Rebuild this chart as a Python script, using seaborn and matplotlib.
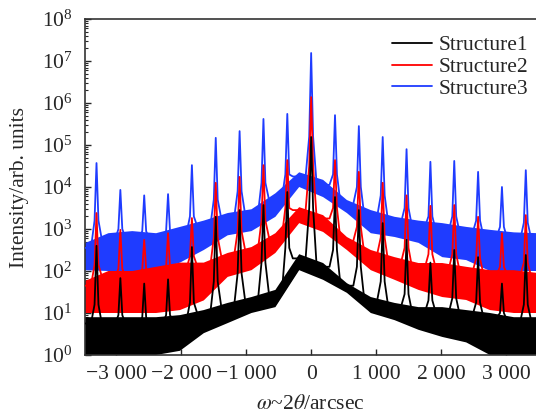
import numpy as np
import matplotlib
matplotlib.use("Agg")
import matplotlib.pyplot as plt
import seaborn as sns

# ---- data (intensities given as log10 values) ----
peak_x = [-3303, -2936, -2569, -2202, -1835, -1468, -1101, -734, -367, 0,
          367, 734, 1101, 1468, 1835, 2202, 2569, 2936, 3303]
mid_x = [-3500, -3120, -2752, -2386, -2018, -1652, -1284, -918, -550, -184,
         184, 550, 918, 1284, 1652, 2018, 2386, 2752, 3120, 3500]

# Structure3 (blue)
s3_peak = [4.57, 3.93, 3.80, 3.83, 4.52, 5.17, 5.33, 5.62, 5.74, 7.19,
           5.71, 5.45, 5.19, 4.90, 4.60, 4.62, 4.36, 4.00, 4.40]
s3_foot = [3.2, 3.0, 2.95, 2.95, 3.3, 3.7, 3.9, 4.1, 4.3, 5.2,
           4.3, 4.0, 3.8, 3.5, 3.3, 3.3, 3.2, 3.05, 3.15]
s3_hi = [2.65, 2.9, 2.95, 2.9, 3.05, 3.2, 3.38, 3.47, 3.85, 4.35,
         4.17, 3.69, 3.45, 3.29, 3.2, 3.14, 3.05, 2.98, 2.92, 2.9]
s3_core_hi = [2.55, 2.72, 2.75, 2.72, 2.88, 3.05, 3.25, 3.35, 3.7, 4.25,
              4.05, 3.6, 3.3, 3.15, 3.05, 2.95, 2.9, 2.8, 2.75, 2.75]
s3_core_lo = [2.3, 2.3, 2.3, 2.3, 2.45, 2.65, 2.95, 3.05, 3.4, 4.05,
              3.85, 3.45, 3.0, 2.9, 2.8, 2.6, 2.5, 2.35, 2.35, 2.35]
s3_lo = [2.02, 2.0, 2.0, 2.0, 2.2, 2.5, 2.85, 2.95, 3.29, 4.0,
         3.76, 3.38, 2.9, 2.81, 2.67, 2.33, 2.26, 2.0, 2.0, 2.0]

# Structure2 (red)
s2_peak = [3.38, 2.98, 2.74, 2.90, 3.26, 4.10, 4.24, 4.52, 4.64, 6.14,
           4.64, 4.36, 4.10, 3.80, 3.55, 3.57, 3.29, 2.90, 3.33]
s2_foot = [2.15, 2.05, 2.05, 2.1, 2.35, 2.8, 2.95, 3.2, 3.5, 4.5,
           3.5, 3.05, 2.8, 2.55, 2.4, 2.4, 2.3, 2.1, 2.2]
s2_hi = [1.75, 2.0, 2.0, 2.1, 2.2, 2.2, 2.43, 2.57, 2.9, 3.52,
         3.33, 2.81, 2.5, 2.33, 2.19, 2.19, 2.1, 2.02, 2.02, 1.95]
s2_core_hi = [1.65, 1.85, 1.85, 1.95, 2.05, 2.1, 2.35, 2.5, 2.8, 3.45,
              3.25, 2.72, 2.4, 2.2, 2.08, 2.05, 1.98, 1.9, 1.9, 1.85]
s2_core_lo = [1.3, 1.3, 1.3, 1.35, 1.45, 1.7, 1.95, 2.1, 2.5, 3.2,
              3.0, 2.55, 2.1, 1.9, 1.7, 1.55, 1.45, 1.35, 1.35, 1.35]
s2_lo = [1.0, 1.0, 1.0, 1.0, 1.07, 1.3, 1.86, 2.02, 2.43, 3.14,
         2.93, 2.5, 2.02, 1.79, 1.55, 1.38, 1.31, 1.07, 1.0, 1.0]

# Structure1 (black)
s1_peak = [2.6, 1.83, 1.7, 1.8, 2.57, 3.29, 3.45, 3.57, 3.88, 5.19,
           3.76, 3.45, 3.14, 2.74, 2.2, 2.5, 2.33, 1.7, 2.38]
s1_foot = [1.2, 0.95, 0.9, 0.95, 1.25, 1.75, 1.95, 2.2, 2.55, 3.5,
           2.5, 2.1, 1.75, 1.45, 1.3, 1.35, 1.25, 1.0, 1.2]
s1_hi = [0.9, 0.9, 0.9, 0.9, 0.95, 1.07, 1.24, 1.38, 1.55, 2.4,
         2.19, 1.71, 1.38, 1.24, 1.14, 1.14, 1.07, 1.0, 0.9, 0.9]
s1_core_hi = [0.75, 0.72, 0.72, 0.72, 0.8, 0.98, 1.15, 1.3, 1.45, 2.3,
              2.1, 1.65, 1.3, 1.15, 1.02, 1.0, 0.95, 0.88, 0.8, 0.8]
s1_core_lo = [0.35, 0.35, 0.35, 0.35, 0.4, 0.65, 0.85, 1.08, 1.2, 2.08,
              1.85, 1.52, 1.08, 0.9, 0.72, 0.65, 0.58, 0.45, 0.38, 0.35]
s1_lo = [0.0, 0.0, 0.0, 0.0, 0.1, 0.52, 0.76, 1.0, 1.14, 2.02,
         1.79, 1.48, 1.0, 0.83, 0.6, 0.43, 0.3, 0.0, 0.0, 0.0]

series_names = ["Structure1", "Structure2", "Structure3"]
xtick_vals = [-3000, -2000, -1000, 0, 1000, 2000, 3000]
xtick_labels = ["\u22123 000", "\u22122 000", "\u22121 000", "0", "1 000", "2 000", "3 000"]

# ---- style ----
sns.set_style("ticks")
plt.rcParams["font.family"] = ["Liberation Serif", "DejaVu Serif"]
plt.rcParams["mathtext.fontset"] = "stix"
plt.rcParams["hatch.linewidth"] = 1.2
FS = 15.5

fig = plt.figure(figsize=(5.36, 4.17), dpi=100)
ax = fig.add_axes([85 / 536, 1 - 355 / 417, 1 - 85 / 536, (355 - 19) / 417])

FOOT_DX = 30   # where the peak wing meets its foot value
BASE_DX = 85   # where the peak leaves the noise band


def trace(peak, foot, hi):
    xs, ys = [], []
    n = len(peak_x)
    for i in range(n):
        xs += [mid_x[i], peak_x[i] - BASE_DX, peak_x[i] - FOOT_DX, peak_x[i],
               peak_x[i] + FOOT_DX, peak_x[i] + BASE_DX]
        ys += [hi[i], hi[i], foot[i], peak[i], foot[i], hi[i + 1]]
    xs.append(mid_x[-1])
    ys.append(hi[-1])
    return np.array(xs), 10 ** np.array(ys)


specs = [
    ("Structure3", s3_peak, s3_foot, s3_hi, s3_core_hi, s3_core_lo, s3_lo, "#1f3cff"),
    ("Structure2", s2_peak, s2_foot, s2_hi, s2_core_hi, s2_core_lo, s2_lo, "#ff0000"),
    ("Structure1", s1_peak, s1_foot, s1_hi, s1_core_hi, s1_core_lo, s1_lo, "#000000"),
]
handles = {}
for name, pk, ft, hi, chi, clo, lo, col in specs:
    # outer noise envelope (spiky texture)
    ax.fill_between(mid_x, 10 ** np.array(lo), 10 ** np.array(hi),
                    facecolor="none", edgecolor=col, hatch="|" * 12, lw=0, zorder=2)
    # dense core of the noise
    ax.fill_between(mid_x, 10 ** np.array(clo), 10 ** np.array(chi),
                    color=col, lw=0, zorder=2)
    xs, ys = trace(pk, ft, chi)
    sns.lineplot(x=xs, y=ys, color=col, lw=1.3, ax=ax, sort=False,
                 estimator=None, zorder=3)
    handles[name] = ax.lines[-1]

ax.set_yscale("log")
ax.set_ylim(1, 1e8)
ax.set_xlim(-3480, 3460)
ax.set_xticks(xtick_vals)
ax.set_xticklabels(xtick_labels, fontsize=FS)
ax.tick_params(axis="x", direction="in", length=4, width=1, pad=7)
ax.tick_params(axis="y", which="major", direction="in", length=4, width=1,
               labelsize=FS, pad=9)
ax.tick_params(axis="y", which="minor", direction="in", length=2, width=0.8)
ax.yaxis.set_major_locator(matplotlib.ticker.LogLocator(base=10, numticks=10))
ax.yaxis.set_minor_locator(matplotlib.ticker.LogLocator(base=10, subs=np.arange(2, 10), numticks=20))
ax.yaxis.set_major_formatter(matplotlib.ticker.LogFormatterMathtext())
for lab in ax.get_yticklabels():
    lab.set_fontsize(FS)

ax.spines["right"].set_visible(False)
for s in ["left", "bottom", "top"]:
    ax.spines[s].set_linewidth(1.2)
    ax.spines[s].set_color("#333333")

ax.set_xlabel(r"$\omega$~2$\theta$/arcsec", fontsize=FS, labelpad=8)
ax.set_ylabel("Intensity/arb. units", fontsize=FS, labelpad=9)

leg = ax.legend([handles[n] for n in series_names], series_names,
                loc="upper right", bbox_to_anchor=(1.012, 0.99), frameon=False,
                fontsize=FS, handlelength=1.9, handletextpad=0.3, labelspacing=0.08,
                borderaxespad=0.2)

fig.savefig("out.png", dpi=100)
